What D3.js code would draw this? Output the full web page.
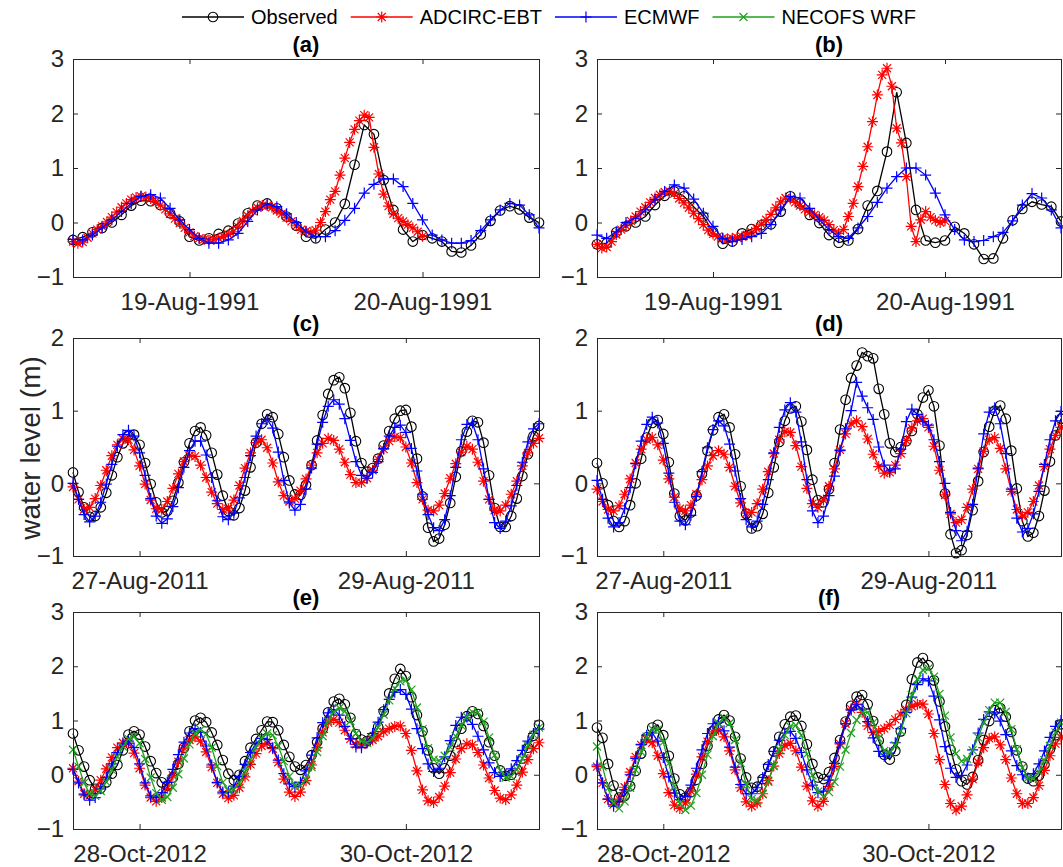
<!DOCTYPE html>
<html>
<head>
<meta charset="utf-8">
<script src="https://cdn.jsdelivr.net/npm/d3@7"></script>
<style>
  body { margin: 0; background: #fff; }
  svg text { font-family: "Liberation Sans", Arial, Helvetica, sans-serif; }
</style>
</head>
<body>
<script>
// ---- data (hours relative to the first labelled date of each panel) ----
const seriesNames = ["Observed", "ADCIRC-EBT", "ECMWF", "NECOFS WRF"];
const panelLabels = ["(a)", "(b)", "(c)", "(d)", "(e)", "(f)"];
const tickLabelsRow1 = ["19-Aug-1991", "20-Aug-1991"];
const tickLabelsRow2 = ["27-Aug-2011", "29-Aug-2011"];
const tickLabelsRow3 = ["28-Oct-2012", "30-Oct-2012"];
const yTicksRow1 = [-1, 0, 1, 2, 3];
const yTicksRow2 = [-1, 0, 1, 2];
const yTicksRow3 = [-1, 0, 1, 2, 3];

// 1991 event: hourly from -12 h, ADCIRC half-hourly from -12 h
const obsA = [-0.32,-0.27,-0.18,-0.10,0.00,0.14,0.31,0.40,0.39,0.32,0.17,0.02,-0.26,-0.33,-0.29,-0.21,-0.15,-0.02,0.17,0.31,0.35,0.26,0.11,-0.06,-0.26,-0.29,-0.13,0.00,0.34,1.06,1.79,1.62,0.78,0.23,-0.13,-0.35,-0.23,-0.29,-0.35,-0.53,-0.55,-0.42,-0.22,0.03,0.22,0.30,0.24,0.09,0.00];
const adcircA = [-0.35,-0.38,-0.36,-0.28,-0.20,-0.13,-0.07,0.01,0.10,0.19,0.28,0.35,0.42,0.46,0.48,0.47,0.44,0.38,0.32,0.24,0.16,0.07,-0.01,-0.10,-0.18,-0.25,-0.29,-0.31,-0.32,-0.31,-0.29,-0.26,-0.22,-0.17,-0.08,0.03,0.12,0.21,0.27,0.31,0.31,0.28,0.22,0.16,0.09,0.02,-0.06,-0.13,-0.16,-0.18,-0.14,0.00,0.20,0.42,0.57,0.87,1.18,1.47,1.71,1.87,1.97,1.93,1.38,0.89,0.52,0.30,0.16,0.08,0.02,-0.04,-0.10,-0.17,-0.25];
const ecmwfA = [-0.31,-0.32,-0.23,-0.10,0.05,0.20,0.35,0.48,0.51,0.45,0.26,0.05,-0.13,-0.29,-0.38,-0.38,-0.32,-0.20,0.02,0.23,0.34,0.29,0.16,0.00,-0.17,-0.26,-0.26,-0.15,0.04,0.26,0.54,0.70,0.80,0.80,0.66,0.35,0.05,-0.23,-0.32,-0.38,-0.38,-0.33,-0.15,0.05,0.23,0.35,0.32,0.14,-0.10];

const obsB = [-0.40,-0.38,-0.18,-0.07,0.00,0.11,0.32,0.49,0.57,0.48,0.29,0.11,-0.17,-0.39,-0.35,-0.20,-0.12,-0.05,-0.03,0.20,0.48,0.35,0.14,-0.01,-0.23,-0.37,-0.33,-0.12,0.31,0.58,1.30,2.39,1.46,0.23,-0.33,-0.37,-0.33,-0.08,-0.20,-0.40,-0.67,-0.66,-0.29,0.04,0.25,0.38,0.33,0.29,0.02];
const adcircB = [-0.40,-0.47,-0.45,-0.35,-0.22,-0.13,-0.06,0.03,0.11,0.20,0.28,0.37,0.45,0.51,0.56,0.57,0.53,0.44,0.36,0.27,0.17,0.07,-0.04,-0.14,-0.21,-0.26,-0.29,-0.30,-0.29,-0.28,-0.26,-0.23,-0.18,-0.11,-0.03,0.05,0.15,0.27,0.38,0.45,0.43,0.37,0.31,0.24,0.19,0.14,0.10,0.04,-0.04,-0.14,-0.20,-0.13,0.11,0.35,0.66,1.03,1.39,1.85,2.34,2.71,2.83,2.50,1.73,1.46,0.84,-0.07,-0.35,0.05,0.20,0.10,0.04,0.00,0.03];
const ecmwfB = [-0.23,-0.29,-0.17,0.00,0.08,0.23,0.42,0.57,0.69,0.63,0.43,0.17,-0.07,-0.29,-0.35,-0.31,-0.26,-0.20,-0.04,0.23,0.48,0.45,0.26,0.05,-0.13,-0.26,-0.29,-0.10,0.11,0.37,0.63,0.84,1.00,1.00,0.87,0.54,0.14,-0.13,-0.32,-0.35,-0.33,-0.26,-0.18,0.03,0.32,0.53,0.45,0.23,-0.10];

// 2011 event: hourly from -12 h
const obsC = [0.15,-0.12,-0.33,-0.46,-0.45,-0.33,-0.13,0.11,0.36,0.55,0.66,0.67,0.53,0.28,-0.01,-0.26,-0.40,-0.38,-0.24,0.01,0.29,0.55,0.72,0.77,0.66,0.42,0.12,-0.17,-0.38,-0.44,-0.34,-0.10,0.22,0.56,0.82,0.95,0.91,0.68,0.36,0.04,-0.15,-0.16,-0.02,0.25,0.59,0.94,1.23,1.42,1.46,1.31,0.97,0.58,0.28,0.16,0.21,0.34,0.52,0.72,0.89,1.00,1.01,0.78,0.34,-0.18,-0.61,-0.80,-0.76,-0.57,-0.27,0.09,0.44,0.71,0.86,0.84,0.56,0.11,-0.34,-0.60,-0.60,-0.45,-0.21,0.10,0.40,0.65,0.79];
const adcircC = [-0.05,-0.22,-0.36,-0.33,-0.21,-0.03,0.18,0.38,0.53,0.61,0.60,0.46,0.24,-0.01,-0.23,-0.35,-0.36,-0.25,-0.07,0.13,0.30,0.38,0.37,0.25,0.08,-0.12,-0.28,-0.36,-0.35,-0.23,-0.03,0.21,0.42,0.56,0.60,0.49,0.28,0.02,-0.17,-0.25,-0.21,-0.10,0.06,0.25,0.42,0.55,0.62,0.59,0.47,0.29,0.12,0.01,0.01,0.07,0.18,0.33,0.47,0.58,0.64,0.63,0.50,0.28,0.01,-0.22,-0.37,-0.38,-0.30,-0.14,0.07,0.27,0.43,0.51,0.47,0.29,0.03,-0.22,-0.37,-0.38,-0.30,-0.15,0.03,0.24,0.42,0.55,0.62];
const ecmwfC = [0.00,-0.22,-0.43,-0.53,-0.45,-0.26,-0.01,0.26,0.51,0.67,0.73,0.65,0.42,0.11,-0.21,-0.45,-0.55,-0.49,-0.32,-0.06,0.22,0.45,0.58,0.58,0.39,0.08,-0.24,-0.46,-0.50,-0.41,-0.20,0.08,0.38,0.65,0.82,0.88,0.76,0.43,0.04,-0.27,-0.37,-0.29,-0.08,0.21,0.54,0.84,1.06,1.15,1.09,0.89,0.59,0.30,0.11,0.07,0.15,0.30,0.48,0.65,0.77,0.80,0.70,0.48,0.17,-0.15,-0.43,-0.61,-0.65,-0.50,-0.17,0.22,0.60,0.81,0.83,0.60,0.20,-0.22,-0.54,-0.62,-0.52,-0.31,-0.03,0.29,0.57,0.75,0.82];

const obsD = [0.28,0.00,-0.30,-0.52,-0.60,-0.52,-0.30,0.00,0.34,0.63,0.83,0.87,0.68,0.29,-0.14,-0.45,-0.51,-0.40,-0.17,0.13,0.45,0.73,0.91,0.95,0.77,0.40,-0.04,-0.42,-0.62,-0.59,-0.42,-0.13,0.22,0.57,0.86,1.03,1.06,0.85,0.46,0.05,-0.23,-0.26,-0.08,0.28,0.74,1.15,1.45,1.62,1.80,1.75,1.72,1.30,0.95,0.55,0.43,0.50,0.58,0.72,0.95,1.18,1.28,1.06,0.52,-0.14,-0.70,-0.96,-0.92,-0.71,-0.37,0.03,0.43,0.78,1.00,1.07,0.89,0.45,-0.07,-0.52,-0.73,-0.68,-0.45,-0.10,0.30,0.66,0.89];
const adcircD = [-0.08,-0.25,-0.36,-0.38,-0.31,-0.15,0.06,0.28,0.47,0.60,0.63,0.53,0.32,0.06,-0.19,-0.35,-0.38,-0.30,-0.15,0.05,0.24,0.38,0.45,0.40,0.22,-0.04,-0.27,-0.41,-0.40,-0.28,-0.08,0.16,0.41,0.60,0.71,0.70,0.52,0.23,-0.07,-0.28,-0.33,-0.23,-0.04,0.20,0.46,0.68,0.82,0.86,0.78,0.61,0.40,0.23,0.14,0.15,0.25,0.41,0.59,0.76,0.86,0.89,0.77,0.51,0.18,-0.16,-0.42,-0.54,-0.50,-0.33,-0.08,0.20,0.44,0.60,0.63,0.48,0.20,-0.11,-0.36,-0.45,-0.40,-0.25,-0.03,0.23,0.47,0.66,0.77];
const ecmwfD = [0.04,-0.22,-0.48,-0.60,-0.54,-0.35,-0.06,0.27,0.58,0.81,0.91,0.83,0.55,0.14,-0.26,-0.52,-0.57,-0.44,-0.18,0.16,0.49,0.74,0.86,0.79,0.54,0.17,-0.21,-0.50,-0.60,-0.52,-0.29,0.05,0.42,0.77,1.01,1.11,0.98,0.57,0.05,-0.38,-0.54,-0.45,-0.17,0.10,0.45,0.75,1.00,1.39,1.20,1.04,0.88,0.50,0.25,0.17,0.20,0.47,0.85,1.02,0.95,0.85,0.80,0.60,0.30,0.00,-0.40,-0.65,-0.79,-0.66,-0.29,0.21,0.68,0.98,1.04,0.82,0.41,-0.08,-0.48,-0.67,-0.62,-0.42,-0.11,0.26,0.60,0.86,0.99];

// 2012 event: hourly from -12 h
const obsE = [0.76,0.45,0.15,-0.10,-0.26,-0.25,-0.14,0.02,0.18,0.45,0.74,0.80,0.74,0.52,0.25,0.03,-0.14,-0.20,-0.05,0.20,0.50,0.80,1.00,1.05,0.97,0.78,0.55,0.27,0.02,-0.10,0.00,0.25,0.50,0.66,0.82,0.98,0.97,0.82,0.55,0.33,0.15,0.09,0.18,0.36,0.60,0.85,1.15,1.35,1.40,1.30,1.05,0.75,0.65,0.62,0.70,0.88,1.17,1.50,1.77,1.95,1.82,1.43,1.10,0.80,0.45,0.12,0.02,0.12,0.35,0.60,0.85,1.08,1.17,1.12,0.90,0.60,0.35,0.08,-0.02,0.00,0.10,0.30,0.50,0.72,0.92];
const adcircE = [0.12,-0.12,-0.35,-0.38,-0.28,-0.10,0.11,0.32,0.50,0.59,0.58,0.40,0.12,-0.19,-0.42,-0.49,-0.42,-0.25,-0.01,0.24,0.49,0.64,0.70,0.62,0.42,0.14,-0.15,-0.35,-0.43,-0.38,-0.24,-0.04,0.19,0.39,0.53,0.58,0.48,0.23,-0.08,-0.32,-0.40,-0.32,-0.11,0.18,0.50,0.78,0.96,1.02,0.96,0.82,0.66,0.56,0.55,0.59,0.64,0.71,0.79,0.85,0.89,0.90,0.76,0.45,0.07,-0.28,-0.48,-0.51,-0.41,-0.21,0.04,0.29,0.48,0.57,0.55,0.41,0.18,-0.06,-0.29,-0.43,-0.46,-0.37,-0.19,0.05,0.28,0.48,0.59];
const ecmwfE = [0.10,-0.15,-0.37,-0.47,-0.42,-0.26,-0.05,0.20,0.41,0.57,0.62,0.50,0.20,-0.15,-0.39,-0.42,-0.33,-0.14,0.10,0.37,0.60,0.77,0.85,0.78,0.53,0.18,-0.14,-0.32,-0.32,-0.21,-0.03,0.19,0.41,0.58,0.67,0.65,0.50,0.27,0.02,-0.17,-0.22,-0.14,0.07,0.36,0.68,0.96,1.14,1.20,1.10,0.89,0.66,0.51,0.50,0.59,0.76,0.97,1.20,1.39,1.52,1.57,1.48,1.21,0.85,0.48,0.20,0.06,0.12,0.33,0.63,0.91,1.06,1.06,0.93,0.71,0.46,0.22,0.04,-0.03,0.00,0.11,0.26,0.45,0.62,0.76,0.84];
const necofsE = [0.46,0.15,-0.15,-0.35,-0.39,-0.30,-0.13,0.09,0.33,0.52,0.66,0.70,0.58,0.29,-0.05,-0.34,-0.46,-0.41,-0.24,0.01,0.30,0.56,0.76,0.83,0.75,0.50,0.16,-0.14,-0.29,-0.27,-0.15,0.05,0.28,0.51,0.68,0.76,0.73,0.53,0.25,-0.03,-0.20,-0.20,-0.09,0.14,0.42,0.71,0.99,1.16,1.23,1.17,0.99,0.76,0.62,0.59,0.68,0.87,1.11,1.37,1.59,1.72,1.74,1.57,1.24,0.84,0.49,0.28,0.26,0.35,0.51,0.71,0.91,1.07,1.16,1.15,0.98,0.69,0.36,0.08,-0.05,-0.03,0.10,0.30,0.54,0.74,0.87];

const obsF = [0.87,0.68,0.20,-0.20,-0.42,-0.39,-0.21,0.07,0.39,0.69,0.87,0.92,0.73,0.35,-0.07,-0.36,-0.42,-0.32,-0.09,0.20,0.53,0.81,1.02,1.10,1.00,0.70,0.30,-0.05,-0.24,-0.22,-0.08,0.15,0.43,0.70,0.93,1.07,1.09,0.90,0.56,0.20,-0.05,-0.08,0.05,0.31,0.64,0.98,1.27,1.44,1.47,1.30,0.99,0.63,0.37,0.28,0.44,0.80,1.29,1.76,2.07,2.15,2.02,1.74,1.35,0.89,0.46,0.10,-0.12,-0.18,-0.04,0.27,0.64,0.99,1.19,1.23,1.07,0.79,0.45,0.15,-0.07,-0.12,-0.02,0.19,0.47,0.73,0.93];
const adcircF = [0.15,-0.15,-0.45,-0.55,-0.45,-0.23,0.05,0.33,0.55,0.65,0.59,0.35,0.02,-0.33,-0.56,-0.62,-0.52,-0.30,0.01,0.33,0.61,0.79,0.83,0.70,0.44,0.09,-0.24,-0.50,-0.58,-0.52,-0.35,-0.11,0.16,0.39,0.54,0.58,0.44,0.14,-0.21,-0.48,-0.58,-0.49,-0.22,0.15,0.57,0.94,1.21,1.30,1.15,0.90,0.78,0.80,0.85,0.92,1.02,1.12,1.20,1.26,1.30,1.30,1.12,0.76,0.28,-0.18,-0.53,-0.65,-0.58,-0.37,-0.08,0.23,0.50,0.67,0.70,0.55,0.28,-0.06,-0.35,-0.53,-0.53,-0.42,-0.20,0.08,0.35,0.57,0.69];
const ecmwfF = [0.18,-0.15,-0.45,-0.58,-0.49,-0.28,0.00,0.30,0.56,0.73,0.77,0.62,0.32,-0.04,-0.34,-0.46,-0.40,-0.19,0.12,0.46,0.76,0.94,0.97,0.81,0.51,0.14,-0.18,-0.35,-0.35,-0.24,-0.05,0.19,0.43,0.64,0.77,0.80,0.67,0.41,0.09,-0.19,-0.33,-0.30,-0.10,0.21,0.59,0.94,1.19,1.29,1.21,0.98,0.68,0.43,0.34,0.40,0.59,0.85,1.15,1.43,1.66,1.77,1.73,1.45,1.01,0.52,0.12,-0.05,-0.01,0.18,0.46,0.77,1.02,1.16,1.14,0.99,0.74,0.44,0.17,0.00,-0.06,0.02,0.20,0.44,0.69,0.89,1.00];
const necofsF = [0.52,0.15,-0.25,-0.52,-0.62,-0.49,-0.24,0.09,0.42,0.70,0.84,0.83,0.60,0.21,-0.21,-0.53,-0.65,-0.57,-0.34,0.00,0.37,0.71,0.95,1.05,0.95,0.64,0.22,-0.18,-0.45,-0.48,-0.36,-0.13,0.17,0.47,0.73,0.89,0.91,0.73,0.38,-0.01,-0.31,-0.40,-0.32,-0.13,0.15,0.46,0.77,1.01,1.15,1.15,0.96,0.67,0.44,0.41,0.54,0.81,1.13,1.47,1.76,1.93,1.96,1.81,1.49,1.09,0.69,0.39,0.25,0.29,0.45,0.69,0.96,1.19,1.33,1.33,1.16,0.84,0.47,0.13,-0.06,-0.07,0.05,0.27,0.53,0.78,0.96];

// ---- panel table built from the arrays above ----
const HOUR = 3600e3;
const styles = {
  obs:    { name: seriesNames[0], color: "#000000", marker: "circle" },
  adcirc: { name: seriesNames[1], color: "#ff0000", marker: "star" },
  ecmwf:  { name: seriesNames[2], color: "#0000ff", marker: "plus" },
  necofs: { name: seriesNames[3], color: "#20a020", marker: "cross" }
};

const row1 = { base: Date.UTC(1991, 7, 19), span: [-12, 36], ticks: [0, 24], labels: tickLabelsRow1, yTicks: yTicksRow1 };
const row2 = { base: Date.UTC(2011, 7, 27), span: [-12, 72], ticks: [0, 48], labels: tickLabelsRow2, yTicks: yTicksRow2 };
const row3 = { base: Date.UTC(2012, 9, 28), span: [-12, 72], ticks: [0, 48], labels: tickLabelsRow3, yTicks: yTicksRow3 };

const panels = [
  { row: 0, col: 0, info: row1, series: [["obs", obsA, 1], ["adcirc", adcircA, 0.5], ["ecmwf", ecmwfA, 1]] },
  { row: 0, col: 1, info: row1, series: [["obs", obsB, 1], ["adcirc", adcircB, 0.5], ["ecmwf", ecmwfB, 1]] },
  { row: 1, col: 0, info: row2, series: [["obs", obsC, 1], ["adcirc", adcircC, 1], ["ecmwf", ecmwfC, 1]] },
  { row: 1, col: 1, info: row2, series: [["obs", obsD, 1], ["adcirc", adcircD, 1], ["ecmwf", ecmwfD, 1]] },
  { row: 2, col: 0, info: row3, series: [["obs", obsE, 1], ["adcirc", adcircE, 1], ["ecmwf", ecmwfE, 1], ["necofs", necofsE, 1]] },
  { row: 2, col: 1, info: row3, series: [["obs", obsF, 1], ["adcirc", adcircF, 1], ["ecmwf", ecmwfF, 1], ["necofs", necofsF, 1]] }
];

// ---- layout ----
const width = 1063, height = 867;
const colX = [73, 597], colW = [466, 464];
const rowY = [59, 338, 612], rowH = [218, 218, 217];
const axisColor = "#262626";

const svg = d3.select("body").append("svg")
  .attr("width", width)
  .attr("height", height);

function markerPath(type) {
  const s = 5.5, d = 4, c = 4;
  if (type === "star") return `M${-s},0H${s}M0,${-s}V${s}M${-d},${-d}L${d},${d}M${-d},${d}L${d},${-d}`;
  if (type === "plus") return `M${-s},0H${s}M0,${-s}V${s}`;
  return `M${-c},${-c}L${c},${c}M${-c},${c}L${c},${-c}`;
}

function drawMarkers(g, pts, style) {
  if (style.marker === "circle") {
    g.selectAll("circle").data(pts).enter().append("circle")
      .attr("cx", d => d[0]).attr("cy", d => d[1]).attr("r", 4.8)
      .attr("fill", "none").attr("stroke", style.color).attr("stroke-width", 1.1);
  } else {
    g.selectAll("path.mk").data(pts).enter().append("path")
      .attr("class", "mk")
      .attr("transform", d => `translate(${d[0]},${d[1]})`)
      .attr("d", markerPath(style.marker))
      .attr("fill", "none").attr("stroke", style.color).attr("stroke-width", 1.2);
  }
}

panels.forEach((p, i) => {
  const x0 = colX[p.col], w = colW[p.col];
  const y0 = rowY[p.row], h = rowH[p.row];
  const info = p.info;
  const toDate = t => new Date(info.base + t * HOUR);

  const x = d3.scaleUtc().domain(info.span.map(toDate)).range([x0, x0 + w]);
  const yTicks = info.yTicks;
  const y = d3.scaleLinear().domain([yTicks[0], yTicks[yTicks.length - 1]]).range([y0 + h, y0]);
  const tickDates = info.ticks.map(toDate);

  const g = svg.append("g");

  // series, drawn in legend order
  p.series.forEach(([key, values, step]) => {
    const style = styles[key];
    const pts = values.map((v, k) => [x(toDate(info.span[0] + k * step)), y(v)]);
    const sg = g.append("g");
    sg.append("path")
      .attr("d", d3.line()(pts))
      .attr("fill", "none")
      .attr("stroke", style.color)
      .attr("stroke-width", 1.3);
    drawMarkers(sg, pts, style);
  });

  // box
  g.append("rect")
    .attr("x", x0 + 0.5).attr("y", y0 + 0.5)
    .attr("width", w).attr("height", h)
    .attr("fill", "none").attr("stroke", axisColor).attr("stroke-width", 1);

  // axes (ticks inward, MATLAB style)
  const xb = g.append("g").attr("transform", `translate(0,${y0 + h})`)
    .call(d3.axisBottom(x).tickValues(tickDates).tickFormat((d, k) => info.labels[k]).tickSize(-5).tickSizeOuter(0));
  xb.selectAll("text").attr("y", 33).attr("dy", null);

  g.append("g").attr("transform", `translate(0,${y0})`)
    .call(d3.axisTop(x).tickValues(tickDates).tickFormat("").tickSize(-5).tickSizeOuter(0));

  g.append("g").attr("transform", `translate(${x0},0)`)
    .call(d3.axisLeft(y).tickValues(yTicks).tickFormat(d3.format("d")).tickSize(-5).tickSizeOuter(0).tickPadding(9));

  g.append("g").attr("transform", `translate(${x0 + w},0)`)
    .call(d3.axisRight(y).tickValues(yTicks).tickFormat("").tickSize(-5).tickSizeOuter(0));

  g.selectAll(".domain").remove();
  g.selectAll(".tick line").attr("stroke", axisColor);
  g.selectAll(".tick text")
    .attr("fill", axisColor)
    .style("font-size", "24px")
    .style("font-family", "'Liberation Sans', Arial, sans-serif");

  // panel title
  g.append("text")
    .attr("x", x0 + w / 2)
    .attr("y", y0 - 7)
    .attr("text-anchor", "middle")
    .attr("font-size", "22px")
    .attr("font-weight", "bold")
    .attr("fill", "#000")
    .text(panelLabels[i]);
});

// y label
svg.append("text")
  .attr("transform", "translate(30,448) rotate(-90)")
  .attr("text-anchor", "middle")
  .attr("dominant-baseline", "central")
  .attr("font-size", "28px")
  .attr("fill", axisColor)
  .text("water level (m)");

// legend
const legendG = svg.append("g").attr("transform", "translate(182,17)");
let lx = 0;
["obs", "adcirc", "ecmwf", "necofs"].forEach(key => {
  const style = styles[key];
  const item = legendG.append("g").attr("transform", `translate(${lx},0)`);
  item.append("line")
    .attr("x1", 0).attr("x2", 62).attr("y1", 0).attr("y2", 0)
    .attr("stroke", style.color).attr("stroke-width", 1.3);
  drawMarkers(item, [[31, 0]], style);
  const t = item.append("text")
    .attr("x", 69)
    .attr("y", 0)
    .attr("dy", "0.35em")
    .attr("font-size", "20px")
    .attr("fill", "#000")
    .text(style.name);
  lx += 69 + t.node().getComputedTextLength() + 13;
});
</script>
</body>
</html>
